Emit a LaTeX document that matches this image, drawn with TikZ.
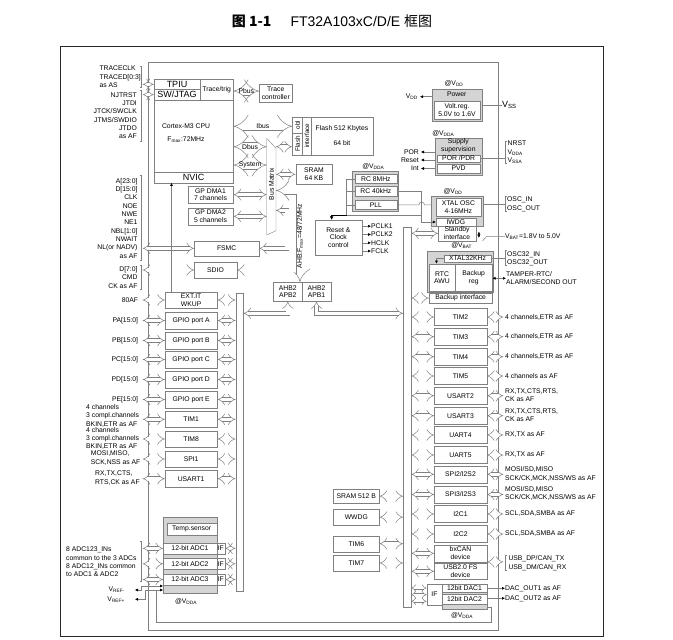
\documentclass[tikz,border=0pt]{standalone}
\usepackage{fontspec}
\setmainfont{Liberation Sans}
\newfontfamily\cjk{Noto Sans CJK SC}
\usepackage{tikz}
\usetikzlibrary{arrows.meta,calc}
\definecolor{BoxLine}{RGB}{128,128,128}
\definecolor{ShadeFill}{RGB}{212,212,212}
\definecolor{FrameLine}{RGB}{40,40,40}

\begin{document}
\begin{tikzpicture}[
  x=1pt, y=-1pt,
  blk/.style={
    rectangle,
    draw=BoxLine,
    fill=white,
    align=center,
    inner sep=0pt,
    font=\fontsize{6.8}{7.6}\selectfont
  },
  shade/.style={
    blk,
    fill=ShadeFill
  },
  big/.style={
    font=\fontsize{9}{10}\selectfont
  },
  lbl/.style={
    inner sep=0pt,
    font=\fontsize{6.8}{8.33}\selectfont
  },
  gpio/.style={blk, minimum width=52.3, minimum height=16.6},
  periph/.style={blk, minimum width=52.4, minimum height=17},
  bus/.style={
    draw=BoxLine,
    double=white,
    double distance=3.6pt,
    line width=0.5pt,
    {Implies}-{Implies}
  },
  wbus/.style={
    bus,
    double distance=8pt
  },
  sbus/.style={
    bus,
    double distance=2pt
  },
  sig/.style={
    draw=BoxLine,
    line width=0.5pt,
    -{Latex[length=3pt,width=3pt,color=black]}
  },
  sig2/.style={
    sig,
    {Latex[length=3pt,width=3pt,color=black]}-{Latex[length=3pt,width=3pt,color=black]}
  },
  brk/.style={draw=BoxLine, line width=0.5pt}
]
\useasboundingbox (0,0) rectangle (673,640);

% title
\node[font=\cjk\bfseries\fontsize{14}{16}\selectfont, anchor=east] (titlenum) at (275,21) {图 1-1};
\node[font=\fontsize{14}{16}\selectfont, anchor=west] (titlename) at (287,21) {FT32A103xC/D/E {\cjk 框图}};

% frames
\draw[FrameLine, line width=0.8pt] (60,46) rectangle (603,636.7);
\draw[BoxLine, line width=1pt] (148.3,62.7) rectangle (498.3,630);

% cpu core
\node[blk, minimum width=79.3, minimum height=103.4] (cpu) at (193.65,131) {};
\node[blk, big, minimum width=46, minimum height=10] (tpiu) at (177,84.3) {TPIU};
\node[blk, big, minimum width=46, minimum height=10.7] (swj) at (177,94.65) {SW/JTAG};
\node[blk, minimum width=33.3, minimum height=20.7] (trig) at (216.65,89.65) {Trace/trig};
\node[blk, big, minimum width=79.3, minimum height=11] (nvic) at (193.65,177.2) {NVIC};
\node[lbl, align=center] (cpulbl) at (186,133) {Cortex-M3 CPU\\[4.7pt]F\textsubscript{max}:72MHz};
\node[blk, minimum width=33, minimum height=18.3] (tracectl) at (275.8,93.2) {Trace\\controller};

% flash and sram
\node[blk, minimum width=18.4, minimum height=38.3] (flashif) at (301.5,135.85) {};
\node[blk, minimum width=62.6, minimum height=38.3] (flash) at (342,135.85) {Flash 512 Kbytes\\[7.4pt]64 bit};
\draw[brk] (302.7,116.7) -- (302.7,155);
\draw[brk] (292.3,133.3) -- (302.7,133.3);
\node[lbl, rotate=90, font=\fontsize{6.3}{7}\selectfont] (flashobl) at (297.6,125) {obl};
\node[lbl, rotate=90, font=\fontsize{6.3}{7}\selectfont] (flashname) at (297.6,144) {Flash};
\node[lbl, rotate=90, font=\fontsize{6.3}{7}\selectfont] (flashintf) at (306.8,135.85) {interface};
\node[blk, minimum width=36.6, minimum height=20] (sram) at (314,174.3) {SRAM\\64 KB};

% bus matrix
\draw[BoxLine, fill=white] (266.7,138.3) -- (276,148.3) -- (276,230.7) -- (266.7,235) -- cycle;
\node[lbl, rotate=90] (busmatrix) at (271.4,184) {Bus Matrix};
\coordinate (bml) at (266.7,184);
\coordinate (bmr) at (276,184);

% dma, fsmc, sdio, bridges
\node[blk, minimum width=45.6, minimum height=17.3] (dma1) at (210.5,194.65) {GP DMA1\\7 channels};
\node[blk, minimum width=45.6, minimum height=17.3] (dma2) at (210.5,216.35) {GP DMA2\\5 channels};
\node[blk, minimum width=64.7, minimum height=15.3] (fsmc) at (226.65,248.35) {FSMC};
\node[blk, minimum width=42.4, minimum height=16.6] (sdio) at (215.5,270) {SDIO};
\node[blk, minimum width=29, minimum height=18.7] (bridge2) at (287.8,291.65) {AHB2\\APB2};
\node[blk, minimum width=28.4, minimum height=18.7] (bridge1) at (316.5,291.65) {AHB2\\APB1};

% clocks
\node[blk, minimum width=46.7, minimum height=35] (rcc) at (338.35,237.5) {Reset \&\\Clock\\control};
\node[lbl] (rcvdda) at (373.3,167) {@V\textsubscript{DDA}};
\node[shade, minimum width=46.6, minimum height=39.5] (rcgrp) at (375,191.25) {};
\node[blk, minimum width=41.7, minimum height=9.5] (rc8) at (375.85,178.75) {RC 8MHz};
\node[blk, minimum width=41.7, minimum height=9.5] (rc40) at (375.85,191.25) {RC 40kHz};
\node[blk, minimum width=41.7, minimum height=8.5] (pll) at (375.85,204.75) {PLL};
\node[lbl, anchor=west] (pclk1) at (371,226.2) {PCLK1};
\node[lbl, anchor=west] (pclk2) at (371,234.5) {PCLK2};
\node[lbl, anchor=west] (hclk) at (371,242.8) {HCLK};
\node[lbl, anchor=west] (fclk) at (371,251.1) {FCLK};

% power and supervision
\node[lbl] (pwrvdd) at (454,83.3) {@V\textsubscript{DD}};
\node[shade, minimum width=50, minimum height=31.4] (power) at (456.7,105) {};
\node[lbl] (powerlbl) at (456.7,94.3) {Power};
\node[blk, minimum width=46, minimum height=18.6] (voltreg) at (457,110) {Volt.reg.\\5.0V to 1.6V};
\node[lbl, anchor=east] (vdd) at (418,96.7) {V\textsubscript{DD}};
\node[lbl, font=\fontsize{9}{10}\selectfont, anchor=west] (vss) at (502,105) {V\textsubscript{SS}};
\node[lbl] (supvdda) at (443.3,134) {@V\textsubscript{DDA}};
\node[shade, minimum width=46.7, minimum height=37.3] (supply) at (458.35,156.35) {};
\node[lbl, align=center] (supplylbl) at (458.35,146) {Supply\\supervision};
\node[blk, minimum width=42.7, minimum height=7.3] (porpdr) at (458.65,158.35) {POR /PDR};
\node[blk, minimum width=42.7, minimum height=8.4] (pvd) at (458.65,168.5) {PVD};
\node[lbl, anchor=east] (por) at (419,152) {POR};
\node[lbl, anchor=east] (rst) at (419,160) {Reset};
\node[lbl, anchor=east] (intr) at (419,168.5) {Int};
\node[lbl, anchor=west, align=left] (nrst) at (507.5,152.3) {NRST\\V\textsubscript{DDA}\\V\textsubscript{SSA}};

% oscillators, rtc
\node[lbl] (xtalvdd) at (453,192) {@V\textsubscript{DD}};
\node[shade, minimum width=51.7, minimum height=30] (xtalgrp) at (456.85,211) {};
\node[blk, minimum width=44.7, minimum height=17.4] (xtal) at (458.35,207) {XTAL OSC\\4-16MHz};
\node[blk, minimum width=39.7, minimum height=7.4] (iwdg) at (455.85,222) {IWDG};
\node[blk, minimum width=37.4, minimum height=15.3] (standby) at (457,233.35) {Standby\\interface};
\node[lbl, anchor=west, align=left] (osc) at (507,204.2) {OSC\_IN\\OSC\_OUT};
\node[lbl, anchor=west] (vbat) at (505,236.7) {V\textsubscript{BAT}=1.8V to 5.0V};
\node[lbl] (rtcvbat) at (461.7,245.7) {@V\textsubscript{BAT}};
\node[shade, minimum width=66, minimum height=40.7] (rtcgrp) at (460.3,271.35) {};
\node[blk, minimum width=47, minimum height=7.3] (xtal32) at (467.5,258.65) {XTAL32KHz};
\node[blk, minimum width=26, minimum height=27] (rtc) at (442,277.5) {RTC\\AWU};
\node[blk, minimum width=37.3, minimum height=27] (bkpreg) at (473.65,277.5) {Backup\\reg};
\node[blk, minimum width=63.3, minimum height=10.6] (bkpif) at (460.65,298) {Backup interface};
\node[lbl, anchor=west, align=left] (osc32) at (507,258.5) {OSC32\_IN\\OSC32\_OUT};
\node[lbl, anchor=west, align=left] (tamper) at (506,278.3) {TAMPER-RTC/\\ALARM/SECOND OUT};

% left pins
\coordinate (lpin) at (142.7,0);
\coordinate (rbr) at (505,0);
\coordinate (rpin) at (503.3,0);
\node[lbl, anchor=west, align=left] (tracesig) at (99.3,76.7) {TRACECLK\\TRACED[0:3]\\as AS};
\node[lbl, anchor=east, align=right] (jtagsig) at (137,115.5) {NJTRST\\JTDI\\JTCK/SWCLK\\JTMS/SWDIO\\JTDO\\as AF};
\node[lbl, anchor=east, align=right] (fsmcsig) at (137.7,218.2) {A[23:0]\\D[15:0]\\CLK\\NOE\\NWE\\NE1\\NBL[1:0]\\NWAIT\\NL(or NADV)\\as AF};
\node[lbl, anchor=east, align=right] (sdiosig) at (137.7,277.3) {D[7:0]\\CMD\\CK as AF};
\draw[brk] (139.7,66.7) -- (141.7,66.7) -- (141.7,87) -- (139.7,87);
\draw[brk] (139.7,90) -- (141.7,90) -- (141.7,141.7) -- (139.7,141.7);
\draw[brk] (139.7,175) -- (141.7,175) -- (141.7,260.7) -- (139.7,260.7);
\draw[brk] (139.7,265) -- (141.7,265) -- (141.7,289) -- (139.7,289);

% apb2 side
\node[blk, minimum width=7.6, minimum height=298.3] (apb2bar) at (239.5,441.85) {};
\node[gpio] (extit) at (191.15,300) {EXT.IT\\WKUP};
\node[gpio] (gpioa) at (191.15,320.5) {GPIO port A};
\node[gpio] (gpiob) at (191.15,340.5) {GPIO port B};
\node[gpio] (gpioc) at (191.15,359.5) {GPIO port C};
\node[gpio] (gpiod) at (191.15,379.5) {GPIO port D};
\node[gpio] (gpioe) at (191.15,399.5) {GPIO port E};
\node[gpio] (tim1) at (191.15,419.3) {TIM1};
\node[gpio] (tim8) at (191.15,439) {TIM8};
\node[gpio] (spi1) at (191.15,459) {SPI1};
\node[gpio] (usart1) at (191.15,478.7) {USART1};
\node[lbl, anchor=east] (extsig) at (138.3,300) {80AF};
\node[lbl, anchor=east] (pasig) at (138.3,320.5) {PA[15:0]};
\node[lbl, anchor=east] (pbsig) at (138.3,340.5) {PB[15:0]};
\node[lbl, anchor=east] (pcsig) at (138.3,359.5) {PC[15:0]};
\node[lbl, anchor=east] (pdsig) at (138.3,379.5) {PD[15:0]};
\node[lbl, anchor=east] (pesig) at (138.3,399.5) {PE[15:0]};
\node[lbl, anchor=west, align=left] (tim1sig) at (86,415.7) {4 channels\\3 compl.channels\\BKIN,ETR as AF};
\node[lbl, anchor=west, align=left] (tim8sig) at (86,438.5) {4 channels\\3 compl.channels\\BKIN,ETR as AF};
\node[lbl, anchor=west, align=left] (spi1sig) at (90.7,458.2) {MOSI,MISO,\\SCK,NSS as AF};
\node[lbl, anchor=west, align=left] (usart1sig) at (95,478) {RX,TX,CTS,\\RTS,CK as AF};

% adc
\node[shade, minimum width=53.4, minimum height=76.6] (adcgrp) at (190,555) {};
\node[blk, minimum width=50, minimum height=12.3] (tempsens) at (191.7,528.85) {Temp.sensor};
\node[blk, minimum width=53.4, minimum height=11.3] (adc1) at (190,548.35) {12-bit ADC1};
\node[blk, minimum width=53.4, minimum height=11.3] (adc2) at (190,563.8) {12-bit ADC2};
\node[blk, minimum width=53.4, minimum height=11.3] (adc3) at (190,579.5) {12-bit ADC3};
\node[blk, minimum width=8.3, minimum height=11.3] (adcif1) at (220.85,548.35) {IF};
\node[blk, minimum width=8.3, minimum height=11.3] (adcif2) at (220.85,563.8) {IF};
\node[blk, minimum width=8.3, minimum height=11.3] (adcif3) at (220.85,579.5) {IF};
\node[lbl] (adcvdda) at (186,601.7) {@V\textsubscript{DDA}};
\node[lbl, anchor=west, align=left] (adcsig) at (66,562) {8 ADC123\_INs\\common to the 3 ADCs\\8 ADC12\_INs common\\to ADC1 \& ADC2};
\node[lbl, anchor=east] (vrefm) at (125,590) {V\textsubscript{REF-}};
\node[lbl, anchor=east] (vrefp) at (125,599.3) {V\textsubscript{REF+}};
\draw[brk] (139.7,541.7) -- (141.7,541.7) -- (141.7,581.7) -- (139.7,581.7);

% apb1 side
\node[blk, minimum width=7.7, minimum height=380] (apb1bar) at (407.15,417.3) {};
\node[blk, minimum width=46, minimum height=14.3] (sram512) at (356.3,496.15) {SRAM 512 B};
\node[blk, minimum width=46, minimum height=15.7] (wwdg) at (356.3,517.15) {WWDG};
\node[blk, minimum width=46, minimum height=16] (tim6) at (356.3,543.7) {TIM6};
\node[blk, minimum width=46, minimum height=16] (tim7) at (356.3,563) {TIM7};
\node[periph] (tim2) at (460.5,317) {TIM2};
\node[periph] (tim3) at (460.5,336.7) {TIM3};
\node[periph] (tim4) at (460.5,356.7) {TIM4};
\node[periph] (tim5) at (460.5,376) {TIM5};
\node[periph] (usart2) at (460.5,395.7) {USART2};
\node[periph] (usart3) at (460.5,415.7) {USART3};
\node[periph] (uart4) at (460.5,435) {UART4};
\node[periph] (uart5) at (460.5,455) {UART5};
\node[periph] (spi2) at (460.5,474.3) {SPI2/I2S2};
\node[periph] (spi3) at (460.5,494.5) {SPI3/I2S3};
\node[periph] (i2c1) at (460.5,514) {I2C1};
\node[periph] (i2c2) at (460.5,534) {I2C2};
\node[periph, minimum height=16.7] (bxcan) at (460.5,553.35) {bxCAN\\device};
\node[periph, minimum height=16] (usbdev) at (460.5,571.3) {USB2.0 FS\\device};
\node[lbl, anchor=west] (tim2sig) at (505,317) {4 channels,ETR as AF};
\node[lbl, anchor=west] (tim3sig) at (505,336.7) {4 channels,ETR as AF};
\node[lbl, anchor=west] (tim4sig) at (505,356.7) {4 channels,ETR as AF};
\node[lbl, anchor=west] (tim5sig) at (505,376) {4 channels as AF};
\node[lbl, anchor=west, align=left] (usart2sig) at (505,395.2) {RX,TX,CTS,RTS,\\CK as AF};
\node[lbl, anchor=west, align=left] (usart3sig) at (505,415.2) {RX,TX,CTS,RTS,\\CK as AF};
\node[lbl, anchor=west] (uart4sig) at (505,435) {RX,TX as AF};
\node[lbl, anchor=west] (uart5sig) at (505,455) {RX,TX as AF};
\node[lbl, anchor=west, align=left] (spi2sig) at (505,473.9) {MOSI/SD,MISO\\SCK/CK,MCK,NSS/WS as AF};
\node[lbl, anchor=west, align=left] (spi3sig) at (505,493.7) {MOSI/SD,MISO\\SCK/CK,MCK,NSS/WS as AF};
\node[lbl, anchor=west] (i2c1sig) at (505,513.5) {SCL,SDA,SMBA as AF};
\node[lbl, anchor=west] (i2c2sig) at (505,533.5) {SCL,SDA,SMBA as AF};
\node[lbl, anchor=west, align=left] (usbsig) at (508.3,563.1) {USB\_DP/CAN\_TX\\USB\_DM/CAN\_RX};

% dac
\node[blk, minimum width=15.6, minimum height=20.7] (dacif) at (434.5,594.65) {IF};
\node[shade, minimum width=44.4, minimum height=25] (dacgrp) at (464.5,596.8) {};
\node[blk, minimum width=44.4, minimum height=8] (dac1) at (464.5,588.3) {12bit DAC1};
\node[blk, minimum width=44.4, minimum height=9.7] (dac2) at (464.5,599.15) {12bit DAC2};
\node[lbl] (dacvdda) at (462,616) {@V\textsubscript{DDA}};
\node[lbl, anchor=west] (dacout1) at (505,588.3) {DAC\_OUT1 as AF};
\node[lbl, anchor=west] (dacout2) at (505,598.3) {DAC\_OUT2 as AF};

% right brackets
\draw[brk] (507,141.7) -- (505,141.7) -- (505,163.3) -- (507,163.3);
\draw[brk] (507,196.7) -- (505,196.7) -- (505,211.7) -- (507,211.7);
\draw[brk] (507,250.7) -- (505,250.7) -- (505,265) -- (507,265);
\draw[brk] (507,555) -- (505,555) -- (505,570) -- (507,570);

% core buses
\draw[bus] (lpin |- tpiu.west) -- (tpiu.west);
\draw[bus] (lpin |- swj.west) -- (swj.west);
\draw[wbus] (trig.east |- 0,91) -- node[lbl]{Pbus} (tracectl.west |- 0,91);
\draw[wbus] (cpu.east |- 0,126.3) -- node[lbl]{Ibus} (flashif.west |- 0,126.3);
\draw[wbus] (cpu.east |- 0,146.7) -- node[lbl]{Dbus} (bml |- 0,146.7);
\draw[wbus] (cpu.east |- 0,165) -- node[lbl]{System} (bml |- 0,165);
\draw[bus] (bmr |- 0,146.7) -- (flashif.west |- 0,146.7);
\draw[bus] (bmr |- sram.west) -- (sram.west);
\draw[bus] (dma1.east) -- (bml |- dma1.east);
\draw[bus] (dma2.east) -- (bml |- dma2.east);
\coordinate (ahbv) at (300,190.5);
\coordinate (fsmcv) at (287,210.5);
\draw[bus, double distance=7pt] (bmr |- ahbv) -- (ahbv) -- (ahbv |- bridge2.north);
\node[lbl, rotate=90] (ahblbl) at (300,236) {AHB:F\textsubscript{max}=48/72MHz};
\draw[bus] (bmr |- fsmcv) -- (fsmcv) |- (fsmc.east);
\draw[bus, -] (304.3,228) -- (rcc.west |- 0,228);
\draw[bus, {Implies}-] (sdio.east) -- (295.7,270);
\draw[bus] (bridge2.south) |- (apb2bar.east |- 0,313.3);
\draw[bus] (bridge1.south) |- (apb1bar.west |- 0,313.3);

% pins to apb2 peripherals
\draw[bus] (lpin |- fsmc.west) -- (fsmc.west);
\draw[bus] (lpin |- sdio.west) -- (sdio.west);
\draw[bus] (lpin |- extit.west) -- (extit.west);
\draw[bus] (lpin |- gpioa.west) -- (gpioa.west);
\draw[bus] (lpin |- gpiob.west) -- (gpiob.west);
\draw[bus] (lpin |- gpioc.west) -- (gpioc.west);
\draw[bus] (lpin |- gpiod.west) -- (gpiod.west);
\draw[bus] (lpin |- gpioe.west) -- (gpioe.west);
\draw[bus] (lpin |- tim1.west) -- (tim1.west);
\draw[bus] (lpin |- tim8.west) -- (tim8.west);
\draw[bus] (lpin |- spi1.west) -- (spi1.west);
\draw[bus] (lpin |- usart1.west) -- (usart1.west);
\draw[bus] (extit.east) -- (apb2bar.west |- extit.east);
\draw[bus] (gpioa.east) -- (apb2bar.west |- gpioa.east);
\draw[bus] (gpiob.east) -- (apb2bar.west |- gpiob.east);
\draw[bus] (gpioc.east) -- (apb2bar.west |- gpioc.east);
\draw[bus] (gpiod.east) -- (apb2bar.west |- gpiod.east);
\draw[bus] (gpioe.east) -- (apb2bar.west |- gpioe.east);
\draw[bus] (tim1.east) -- (apb2bar.west |- tim1.east);
\draw[bus] (tim8.east) -- (apb2bar.west |- tim8.east);
\draw[bus] (spi1.east) -- (apb2bar.west |- spi1.east);
\draw[bus] (usart1.east) -- (apb2bar.west |- usart1.east);
\draw[bus] (lpin |- adc1.west) -- (adc1.west);
\draw[bus] (lpin |- adc2.west) -- (adc2.west);
\draw[bus] (lpin |- adc3.west) -- (adc3.west);
\draw[bus] (adcif1.east) -- (apb2bar.west |- adcif1.east);
\draw[bus] (adcif2.east) -- (apb2bar.west |- adcif2.east);
\draw[bus] (adcif3.east) -- (apb2bar.west |- adcif3.east);

% apb1 peripherals
\draw[bus] (apb1bar.east |- standby.west) -- (standby.west);
\draw[bus] (apb1bar.east |- bkpif.west) -- (bkpif.west);
\draw[bus] (apb1bar.east |- tim2.west) -- (tim2.west);
\draw[bus] (apb1bar.east |- tim3.west) -- (tim3.west);
\draw[bus] (apb1bar.east |- tim4.west) -- (tim4.west);
\draw[bus] (apb1bar.east |- tim5.west) -- (tim5.west);
\draw[bus] (apb1bar.east |- usart2.west) -- (usart2.west);
\draw[bus] (apb1bar.east |- usart3.west) -- (usart3.west);
\draw[bus] (apb1bar.east |- uart4.west) -- (uart4.west);
\draw[bus] (apb1bar.east |- uart5.west) -- (uart5.west);
\draw[bus] (apb1bar.east |- spi2.west) -- (spi2.west);
\draw[bus] (apb1bar.east |- spi3.west) -- (spi3.west);
\draw[bus] (apb1bar.east |- i2c1.west) -- (i2c1.west);
\draw[bus] (apb1bar.east |- i2c2.west) -- (i2c2.west);
\draw[bus] (apb1bar.east |- bxcan.west) -- (bxcan.west);
\draw[bus] (apb1bar.east |- usbdev.west) -- (usbdev.west);
\draw[bus] (tim2.east) -- (rpin |- tim2.east);
\draw[bus] (tim3.east) -- (rpin |- tim3.east);
\draw[bus] (tim4.east) -- (rpin |- tim4.east);
\draw[bus] (tim5.east) -- (rpin |- tim5.east);
\draw[bus] (usart2.east) -- (rpin |- usart2.east);
\draw[bus] (usart3.east) -- (rpin |- usart3.east);
\draw[bus] (uart4.east) -- (rpin |- uart4.east);
\draw[bus] (uart5.east) -- (rpin |- uart5.east);
\draw[bus] (spi2.east) -- (rpin |- spi2.east);
\draw[bus] (spi3.east) -- (rpin |- spi3.east);
\draw[bus] (i2c1.east) -- (rpin |- i2c1.east);
\draw[bus] (i2c2.east) -- (rpin |- i2c2.east);
\draw[bus] (bxcan.south east) -- (rpin |- bxcan.south east);
\draw[bus] (sram512.east) -- (apb1bar.west |- sram512.east);
\draw[bus] (wwdg.east) -- (apb1bar.west |- wwdg.east);
\draw[bus] (tim6.east) -- (apb1bar.west |- tim6.east);
\draw[bus] (tim7.east) -- (apb1bar.west |- tim7.east);
\draw[sbus] (apb1bar.east |- 0,588) -- (dacif.west |- 0,588);
\draw[sbus] (apb1bar.east |- 0,594.7) -- (dacif.west |- 0,594.7);
\draw[sbus] (apb1bar.east |- 0,601.3) -- (dacif.west |- 0,601.3);

% signal lines
\coordinate (nvicin) at ($(extit.north west)+(6.7,0)$);
\draw[sig] (nvicin) -- (nvicin |- nvic.south);
\draw[sig] (power.west |- vdd) -- ($(vdd.east)+(2,0)$);
\draw[brk] (power.east) -- (vss.west);
\draw[sig] (supply.west |- por) -- ($(por.east)+(2,0)$);
\draw[sig] (supply.west |- rst) -- ($(rst.east)+(2,0)$);
\draw[sig] (supply.west |- intr) -- ($(intr.east)+(2,0)$);
\draw[brk] (porpdr.east) -- (rbr |- porpdr.east);
\draw[brk] (xtalgrp.east |- osc.west) -- (rbr |- osc.west);
\draw[brk] (xtal32.east) -- (rbr |- xtal32.east);
\draw[sig2] (bkpreg.east |- tamper.west) -- (tamper.west);
\draw[sig] (xtal32.west) -| ($(xtal32.west)+(-7.3,5)$);
\draw[brk] (vbat.west) -- ($(standby.east)+(10.5,3.3)$) -- ($(standby.east)+(6.5,7.7)$);
\draw[sig2] ($(standby.east)+(3,-1.8)$) -- ($(standby.east)+(3,4.5)$);

% clock tree
\coordinate (clkcol) at (346.7,215.5);
\coordinate (iwdgcol) at (421.7,0);
\draw[brk] (rc8.west) -| (clkcol);
\draw[brk] (rc40.west) -- (rc40.west -| clkcol);
\draw[brk] (pll.west) -- (pll.west -| clkcol);
\draw[line width=1pt, -{Latex[length=3.5pt,width=4pt]}] (clkcol) -| ($(rcc.north)+(-6.7,0)$);
\draw[brk] (clkcol) -- (clkcol -| iwdgcol);
\draw[sig] (rc40.east) -- (rc40.east -| iwdgcol) -- (iwdgcol |- iwdg.west) -- (iwdg.west);
\draw[brk] (pll.east) -- ($(pll.east -| iwdgcol)+(-2.7,0)$) .. controls +(0,-3.6) and +(0,-3.6) .. ($(pll.east -| iwdgcol)+(2.7,0)$) -- (pll.east -| xtalgrp.west);
\draw[sig] (rcc.east |- pclk1) -- (pclk1.west);
\draw[sig] (rcc.east |- pclk2) -- (pclk2.west);
\draw[sig] (rcc.east |- hclk) -- (hclk.west);
\draw[sig] (rcc.east |- fclk) -- (fclk.west);

% analog supply
\coordinate (vrefmjog) at (141.7,586);
\coordinate (vrefpjog) at (145,590);
\coordinate (vddaloop) at (156.7,590);
\coordinate (vddacorner) at (491,622.7);
\coordinate (dacvin) at (486.7,607.7);
\draw[sig2] (adcgrp.west |- vrefmjog) -- (vrefmjog) |- ($(vrefm.east)+(10,0)$);
\draw[sig2] (adcgrp.west |- vrefpjog) -- (vrefpjog) |- ($(vrefp.east)+(10,0)$);
\draw[brk] (vddaloop) |- (vddacorner) |- (dacvin);
\draw[sig] (dac1.east) -- (dacout1.west);
\draw[sig] (dac2.east |- dacout2.west) -- (dacout2.west);
\end{tikzpicture}
\end{document}
